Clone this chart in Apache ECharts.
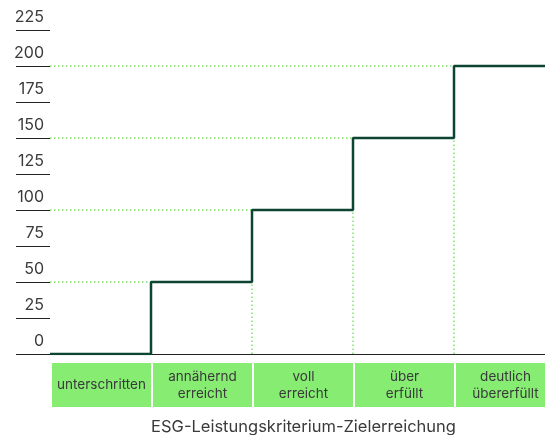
<!DOCTYPE html>
<html lang="de">
<head>
	<meta charset="UTF-8">
	<title>ESG-Zielerreichung</title>
	<script src="https://cdn.jsdelivr.net/npm/echarts@6/dist/echarts.min.js"></script>
	<style>
		html,body{height:100%;margin:0;background:#fff;overflow:hidden;}
	</style>
</head>
<body>
	<!-- etwas breiter als das Fenster: die letzte Kategorie läuft rechts aus dem Bild -->
	<div id="chart" style="width:556px; height:435px;"></div>
	<script>
	// Kategorien und Stufenwerte
	var categories = ['unterschritten', 'annähernd\nerreicht', 'voll\nerreicht', 'über\nerfüllt', 'deutlich\nübererfüllt'];
	var levels = [0, 50, 100, 150, 200];
	var yTicks = [0, 225, 25]; // min, max, interval
	var title = 'ESG-Leistungskriterium-Zielerreichung';

	var font = 'Inter, "Noto Sans", sans-serif';
	var dotColor = '#7fe46a';

	// Stufenpunkte: jede Kategorie beginnt bei ihrem Index
	var stepData = [];
	for (var i = 0; i < levels.length; i++) {
		stepData.push([i, levels[i]]);
	}
	stepData.push([levels.length, levels[levels.length - 1]]);

	// gepunktete Hilfslinien
	var guides = [];
	for (var i = 1; i < levels.length; i++) {
		if (levels[i] > 0) {
			guides.push([{coord: [0, levels[i]]}, {coord: [i, levels[i]]}]);
		}
		if (levels[i - 1] > 0) {
			guides.push([{coord: [i, 0]}, {coord: [i, levels[i - 1]]}]);
		}
	}

	var myChart = echarts.init(document.getElementById('chart'));

	var option = {
		animation: false,
		grid: [
			{left: 50, right: 1, top: 30, bottom: 81, outerBoundsMode: 'none'},
			{left: 51, right: 0, top: 30, bottom: 81, outerBoundsMode: 'none'}
		],
		xAxis: [{
			type: 'value',
			gridIndex: 0,
			min: 0,
			max: levels.length,
			axisLine: {show: true, lineStyle: {color: '#222', width: 1}},
			axisTick: {show: false},
			axisLabel: {show: false},
			splitLine: {show: false}
		}, {
			type: 'category',
			gridIndex: 1,
			data: categories,
			boundaryGap: true,
			axisLine: {show: false},
			axisTick: {show: false},
			splitLine: {show: false},
			axisLabel: {
				interval: 0,
				margin: 9,
				color: '#3a3a3a',
				fontFamily: font,
				fontSize: 13.5,
				lineHeight: 17,
				width: 99,
				align: 'center',
				backgroundColor: '#86ec72',
				padding: [5, 0, 5, 0],
				formatter: function (v) {
					return v.indexOf('\n') < 0 ? '{one|' + v + '}' : v;
				},
				rich: {
					one: {lineHeight: 34, fontSize: 13.5, fontFamily: font, color: '#3a3a3a'}
				}
			},
			name: title,
			nameLocation: 'middle',
			nameGap: 65,
			nameMoveOverlap: false,
			nameTextStyle: {color: '#3a3a3a', fontFamily: font, fontSize: 16.5}
		}],
		yAxis: [{
			type: 'value',
			gridIndex: 0,
			min: yTicks[0],
			max: yTicks[1],
			interval: yTicks[2],
			offset: 6,
			axisLine: {show: false},
			axisTick: {show: true, length: 34, lineStyle: {color: '#222', width: 1}},
			splitLine: {show: false},
			axisLabel: {
				margin: 0,
				color: '#3a3a3a',
				fontFamily: font,
				fontSize: 16,
				verticalAlign: 'bottom',
				padding: [0, 0, 5, 0]
			}
		}, {
			type: 'value',
			gridIndex: 1,
			show: false
		}],
		series: [{
			type: 'line',
			xAxisIndex: 0,
			yAxisIndex: 0,
			step: 'end',
			data: stepData,
			symbol: 'none',
			lineStyle: {color: '#0d4533', width: 2.5},
			z: 3,
			markLine: {
				silent: true,
				symbol: 'none',
				label: {show: false},
				emphasis: {disabled: true},
				lineStyle: {color: dotColor, type: [1.5, 2.5], width: 1.5, opacity: 1},
				data: guides,
				z: 1
			}
		}]
	};
	myChart.setOption(option);
	</script>
</body>
</html>
